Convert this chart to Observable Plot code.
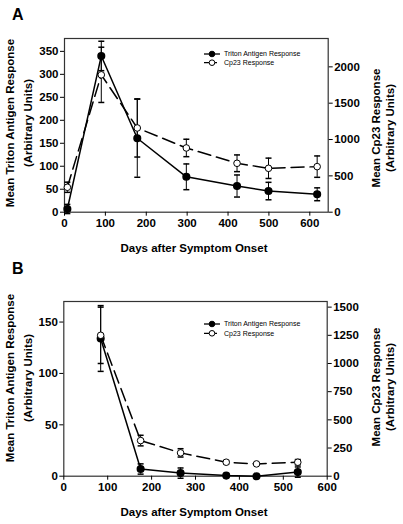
<!DOCTYPE html>
<html><head><meta charset="utf-8">
<script src="https://cdn.jsdelivr.net/npm/d3@7"></script>
<script src="https://cdn.jsdelivr.net/npm/@observablehq/plot@0.6"></script>
<style>
body{margin:0;background:#fff;}
#wrap{position:relative;width:403px;height:524px;font-family:"Liberation Sans",Arial,sans-serif;background:#fff;}
.panel{position:absolute;left:0;}
</style></head><body><div id="wrap"></div>
<script>
// ---- Panel A data ----
const daysA = [7, 90, 178, 298, 422, 499, 618];
const tritonA = [7, 340, 161, 77, 57, 46, 39];
const tritonErrA = [10, 32, 85, 28, 24, 19, 14];
const cp23A = [343, 1890, 1159, 884, 673, 604, 627];
const cp23ErrA = [70, 380, 400, 120, 115, 140, 147];
const xTicksA = [0, 100, 200, 300, 400, 500, 600];
const leftTicksA = [0, 50, 100, 150, 200, 250, 300, 350];
const rightTicksA = [0, 500, 1000, 1500, 2000];
// ---- Panel B data ----
const daysB = [84, 175, 266, 370, 439, 533];
const tritonB = [134, 7, 3, 0.6, 0, 4];
const tritonErrB = [32, 5, 5, 2, 1, 5];
const cp23B = [1250, 316, 207, 124, 109, 124];
const cp23ErrB = [250, 47, 37, 15, 10, 24];
const xTicksB = [0, 100, 200, 300, 400, 500, 600];
const leftTicksB = [0, 50, 100, 150];
const rightTicksB = [0, 250, 500, 750, 1000, 1250, 1500];
const seriesNames = ["Triton Antigen Response", "Cp23 Response"];
const xTitle = "Days after Symptom Onset";
const leftTitle = ["Mean Triton Antigen Response", "(Arbitrary Units)"];
const rightTitle = ["Mean Cp23 Response", "(Arbitrary Units)"];

const FONT = '"Liberation Sans", Arial, sans-serif';
const capSym = {draw(ctx, size){ const r = Math.sqrt(size/Math.PI); ctx.moveTo(-r,0); ctx.lineTo(r,0); }};

function panel(cfg){
  const k = cfg.yMax / cfg.cpMax;
  const rows = cfg.days.map((d,i)=>({
    day:d, tri:cfg.tri[i], triLo:cfg.tri[i]-cfg.triErr[i], triHi:cfg.tri[i]+cfg.triErr[i],
    cp:cfg.cp[i]*k, cpLo:(cfg.cp[i]-cfg.cpErr[i])*k, cpHi:(cfg.cp[i]+cfg.cpErr[i])*k
  }));
  const chart = Plot.plot({
    width: 403, height: 262,
    marginLeft: cfg.ml, marginRight: cfg.mr, marginTop: cfg.mt, marginBottom: cfg.mb,
    x: {domain: cfg.xDomain},
    y: {domain: [0, cfg.yMax]},
    style: {fontFamily: FONT, fontSize: "11.5px", fontWeight: "bold", color: "black", background: "white", overflow: "visible"},
    marks: [
      Plot.frame({stroke: "#333", strokeWidth: 1.2}),
      Plot.axisX({ticks: cfg.xTicks, tickSize: 4, tickPadding: 3, label: null, tickFormat: d => String(d)}),
      Plot.axisY({ticks: cfg.leftTicks, tickSize: 4, tickPadding: 2, label: null, tickFormat: d => String(d)}),
      Plot.axisY({ticks: cfg.rightTicks.map(v => v*k), anchor: "right", tickSize: 4, tickPadding: 2, label: null, tickFormat: d => String(Math.round(d/k))}),
      Plot.ruleX(rows, {x: "day", y1: "cpLo", y2: "cpHi", stroke: "black", strokeWidth: 1}),
      Plot.ruleX(rows, {x: "day", y1: "triLo", y2: "triHi", stroke: "black", strokeWidth: 1}),
      Plot.dot(rows, {x: "day", y: "cpLo", symbol: capSym, r: 3, stroke: "black", fill: "none"}),
      Plot.dot(rows, {x: "day", y: "cpHi", symbol: capSym, r: 3, stroke: "black", fill: "none"}),
      Plot.dot(rows, {x: "day", y: "triLo", symbol: capSym, r: 3, stroke: "black", fill: "none"}),
      Plot.dot(rows, {x: "day", y: "triHi", symbol: capSym, r: 3, stroke: "black", fill: "none"}),
      Plot.line(rows, {x: "day", y: "tri", stroke: "black", strokeWidth: 1.5}),
      Plot.line(rows, {x: "day", y: "cp", stroke: "black", strokeWidth: 1.5, strokeDasharray: "13,6"}),
      Plot.dot(rows, {x: "day", y: "tri", r: 3.3, fill: "black", stroke: "black"}),
      Plot.dot(rows, {x: "day", y: "cp", r: 3.3, fill: "white", stroke: "black", strokeWidth: 1})
    ]
  });
  const svg = d3.select(chart);
  svg.append("text").attr("x", 12).attr("y", cfg.letterY).attr("font-family", FONT).attr("text-anchor", "start")
    .attr("font-size", 16).attr("font-weight", "bold").text(cfg.letter);
  const t = (x, y, s, rot, size) => svg.append("text").attr("font-family", FONT).attr("font-size", size)
    .attr("font-weight", "bold").attr("text-anchor", "middle").attr("dy", "0.35em")
    .attr("transform", `translate(${x},${y})` + (rot ? " rotate(-90)" : "")).text(s);
  t(10, cfg.lty, leftTitle[0], true, 11.5);
  t(28, cfg.lty, leftTitle[1], true, 11.5);
  t(376, cfg.rty, rightTitle[0], true, 11.5);
  t(390, cfg.rty, rightTitle[1], true, 11.5);
  t(194, cfg.xty, xTitle, false, 11.5);
  const lg = svg.append("g").attr("font-family", FONT).attr("font-size", 7).attr("font-weight", "normal");
  seriesNames.forEach((name, i) => {
    const y = cfg.legY + i*cfg.legGap;
    lg.append("line").attr("x1", 204).attr("x2", 220).attr("y1", y).attr("y2", y)
      .attr("stroke", "black").attr("stroke-width", 1.3).attr("stroke-dasharray", i ? "5,3" : null);
    lg.append("circle").attr("cx", 212).attr("cy", y).attr("r", 2.8)
      .attr("fill", i ? "white" : "black").attr("stroke", "black");
    lg.append("text").attr("x", 224).attr("y", y).attr("dy", "0.35em").attr("text-anchor", "start").text(name);
  });
  const div = document.createElement("div");
  div.className = "panel";
  div.style.top = cfg.top + "px";
  div.appendChild(chart);
  document.getElementById("wrap").appendChild(div);
}

panel({letter: "A", top: 0, days: daysA, tri: tritonA, triErr: tritonErrA, cp: cp23A, cpErr: cp23ErrA,
  xDomain: [0, 645], yMax: 378, cpMax: 2390, xTicks: xTicksA, leftTicks: leftTicksA, rightTicks: rightTicksA,
  ml: 64, mr: 75.3, mt: 38, mb: 50.3, letterY: 20, lty: 123, rty: 128, xty: 248, legY: 54, legGap: 8.7});
panel({letter: "B", top: 262, days: daysB, tri: tritonB, triErr: tritonErrB, cp: cp23B, cpErr: cp23ErrB,
  xDomain: [0, 600], yMax: 170, cpMax: 1550, xTicks: xTicksB, leftTicks: leftTicksB, rightTicks: rightTicksB,
  ml: 63.3, mr: 76.3, mt: 39, mb: 48.3, letterY: 12, lty: 116, rty: 125, xty: 250, legY: 62, legGap: 9.3});
</script></body></html>
